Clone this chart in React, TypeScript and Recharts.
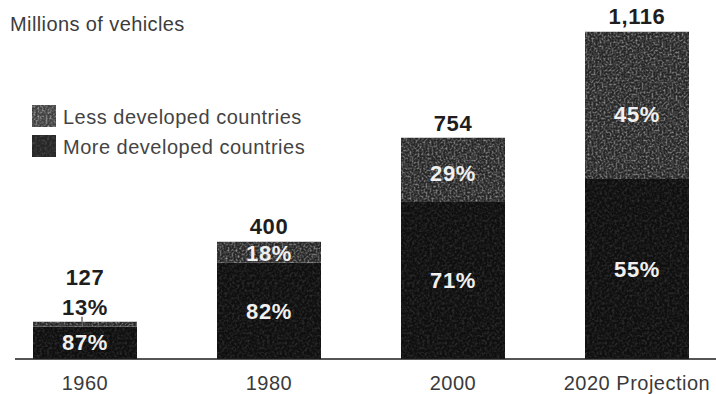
import React from 'react';
import { BarChart, Bar, XAxis, YAxis, LabelList } from 'recharts';

// Vehicle fleet in millions, with the share held by each group of countries
const years = ['1960', '1980', '2000', '2020 Projection'];
const totals = [127, 400, 754, 1116];
const moreDevelopedPct = [87, 82, 71, 55];
const lessDevelopedPct = [13, 18, 29, 45];

const rows = years.map((year, i) => ({
  year,
  more: (totals[i] * moreDevelopedPct[i]) / 100,
  less: (totals[i] * lessDevelopedPct[i]) / 100,
}));

const FONT = '"Liberation Sans", Arial, Helvetica, sans-serif';

const boxOf = (props: any) => {
  const vb = props.viewBox || {};
  return {
    x: Number(props.x ?? vb.x),
    y: Number(props.y ?? vb.y),
    width: Number(props.width ?? vb.width),
    height: Number(props.height ?? vb.height),
  };
};

const MoreLabel = (props: any) => {
  const { x, y, width, height } = boxOf(props);
  const i = years.indexOf(props.value);
  return (
    <text
      x={x + width / 2}
      y={y + height / 2}
      dy="0.35em"
      textAnchor="middle"
      fill="#f0f0f0"
      fontFamily={FONT}
      fontWeight={700}
      fontSize={22}
      letterSpacing={0.6}
    >
      {moreDevelopedPct[i]}%
    </text>
  );
};

const LessLabel = (props: any) => {
  const { x, y, width, height } = boxOf(props);
  const i = years.indexOf(props.value);
  const cx = x + width / 2;
  const common = {
    textAnchor: 'middle' as const,
    fontFamily: FONT,
    fontWeight: 700,
    fontSize: 22,
    letterSpacing: 0.6,
    dy: '0.35em',
  };
  const total = totals[i].toLocaleString('en-US');
  if (height < 12) {
    // Segment too thin to hold its label: put it above with a short leader
    return (
      <g>
        <line x1={cx - 3} x2={cx - 3} y1={y - 5} y2={y} stroke="#222" strokeWidth={1} />
        <text x={cx} y={y - 14} fill="#1e1e1e" {...common}>
          {lessDevelopedPct[i]}%
        </text>
        <text x={cx} y={y - 44} fill="#1e1e1e" {...common}>
          {total}
        </text>
      </g>
    );
  }
  return (
    <g>
      <text x={cx} y={y + height * 0.56} fill="#f0f0f0" {...common}>
        {lessDevelopedPct[i]}%
      </text>
      <text x={cx} y={y - 15} fill="#1e1e1e" {...common}>
        {total}
      </text>
    </g>
  );
};

const YearTick = (props: any) => {
  const { x, y, payload } = props;
  return (
    <text
      x={x}
      y={y}
      dy={31}
      textAnchor="middle"
      fill="#3a3a3a"
      fontFamily={FONT}
      fontSize={20}
      letterSpacing={0.5}
    >
      {payload.value}
    </text>
  );
};

const GrainDefs = ({ prefix }: { prefix: string }) => (
  <defs>
    <filter
      id={`${prefix}-grain`}
      x="0"
      y="0"
      width="100%"
      height="100%"
      colorInterpolationFilters="sRGB"
    >
      <feTurbulence type="fractalNoise" baseFrequency="0.5" numOctaves="3" seed="4" result="n" />
      <feColorMatrix
        in="n"
        type="matrix"
        values="0 0 0 0 1  0 0 0 0 1  0 0 0 0 1  1.1 0 0 0 -0.45"
        result="spk"
      />
      <feComposite in="spk" in2="SourceAlpha" operator="in" result="spkIn" />
      <feMerge>
        <feMergeNode in="SourceGraphic" />
        <feMergeNode in="spkIn" />
      </feMerge>
    </filter>
    <filter
      id={`${prefix}-grainFaint`}
      x="0"
      y="0"
      width="100%"
      height="100%"
      colorInterpolationFilters="sRGB"
    >
      <feTurbulence type="fractalNoise" baseFrequency="0.4" numOctaves="2" seed="9" result="n" />
      <feColorMatrix
        in="n"
        type="matrix"
        values="0 0 0 0 1  0 0 0 0 1  0 0 0 0 1  0.3 0 0 0 -0.12"
        result="spk"
      />
      <feComposite in="spk" in2="SourceAlpha" operator="in" result="spkIn" />
      <feMerge>
        <feMergeNode in="SourceGraphic" />
        <feMergeNode in="spkIn" />
      </feMerge>
    </filter>
    <pattern id={`${prefix}-less`} patternUnits="userSpaceOnUse" width="160" height="160">
      <rect width="160" height="160" fill="#262626" filter={`url(#${prefix}-grain)`} />
    </pattern>
    <pattern id={`${prefix}-more`} patternUnits="userSpaceOnUse" width="160" height="160">
      <rect width="160" height="160" fill="#0f0f0f" filter={`url(#${prefix}-grainFaint)`} />
    </pattern>
    <pattern id={`${prefix}-lessKey`} patternUnits="userSpaceOnUse" width="40" height="40">
      <rect width="40" height="40" fill="#404040" filter={`url(#${prefix}-grain)`} />
    </pattern>
    <pattern id={`${prefix}-moreKey`} patternUnits="userSpaceOnUse" width="40" height="40">
      <rect width="40" height="40" fill="#272727" filter={`url(#${prefix}-grainFaint)`} />
    </pattern>
  </defs>
);

export default function App() {
  return (
    <div
      style={{
        position: 'absolute',
        left: 0,
        top: 0,
        width: 716,
        height: 394,
        overflow: 'hidden',
        background: '#ffffff',
      }}
    >
      <BarChart
        width={716}
        height={394}
        data={rows}
        margin={{ top: 7, right: 0, bottom: 5, left: 15 }}
      >
        <GrainDefs prefix="bars" />
        <XAxis
          dataKey="year"
          height={30}
          padding={{ left: -22, right: -13 }}
          axisLine={{ stroke: '#1c1c1c', strokeWidth: 1.6 }}
          tickLine={false}
          tickSize={0}
          tickMargin={0}
          interval={0}
          tick={<YearTick />}
        />
        <YAxis hide domain={[0, 1200]} />
        <Bar dataKey="more" stackId="fleet" barSize={104} fill="url(#bars-more)" isAnimationActive={false}>
          <LabelList dataKey="year" content={<MoreLabel />} />
        </Bar>
        <Bar dataKey="less" stackId="fleet" barSize={104} fill="url(#bars-less)" isAnimationActive={false}>
          <LabelList dataKey="year" content={<LessLabel />} />
        </Bar>
      </BarChart>

      <svg
        width={716}
        height={394}
        style={{ position: 'absolute', left: 0, top: 0, pointerEvents: 'none' }}
      >
        <GrainDefs prefix="key" />
        <text x={10} y={31} fill="#3c3c3c" fontFamily={FONT} fontSize={20} letterSpacing={0.4}>
          Millions of vehicles
        </text>
        <rect x={32} y={105} width={24} height={22} fill="url(#key-lessKey)" />
        <text x={63} y={124} fill="#444" fontFamily={FONT} fontSize={20} letterSpacing={0.5}>
          Less developed countries
        </text>
        <rect x={32} y={135} width={24} height={22} fill="url(#key-moreKey)" />
        <text x={63} y={154} fill="#444" fontFamily={FONT} fontSize={20} letterSpacing={0.5}>
          More developed countries
        </text>
      </svg>
    </div>
  );
}
